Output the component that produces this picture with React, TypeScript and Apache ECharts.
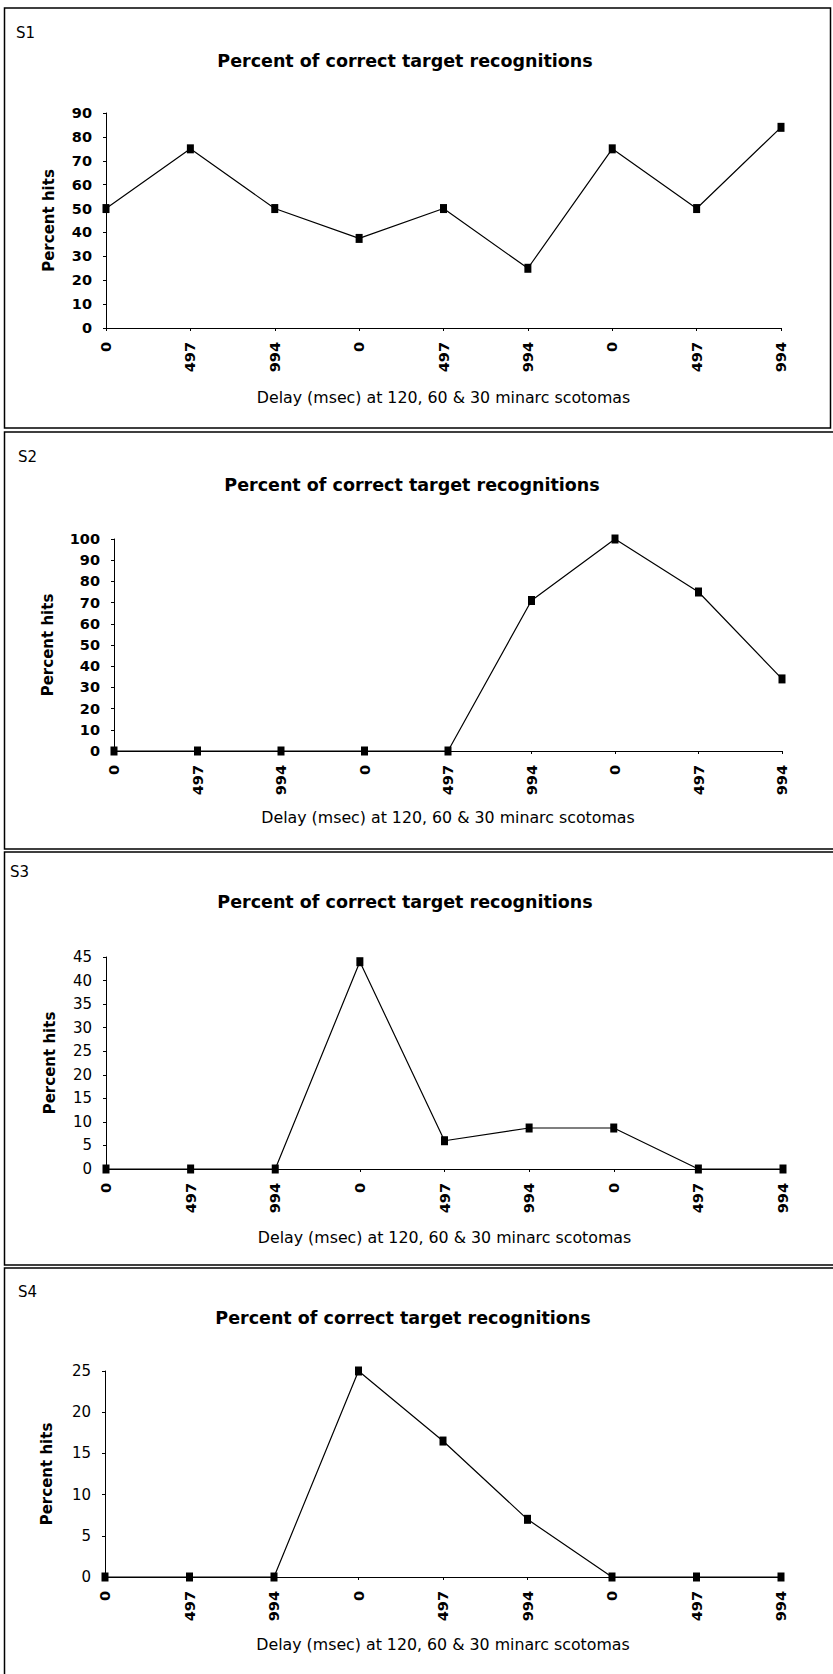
import React, { useEffect, useRef } from "react";
import * as echarts from "echarts";

const categories = ["0", "497", "994", "0", "497", "994", "0", "497", "994"];
const s1Values = [50, 75, 50, 37.5, 50, 25, 75, 50, 84];
const s2Values = [0, 0, 0, 0, 0, 71, 100, 75, 34];
const s3Values = [0, 0, 0, 44, 6, 8.7, 8.7, 0, 0];
const s4Values = [0, 0, 0, 25, 16.5, 7, 0, 0, 0];
const yMaxes = [90, 100, 45, 25];
const yIntervals = [10, 10, 5, 5];
const panelLabels = ["S1", "S2", "S3", "S4"];
const titleText = "Percent of correct target recognitions";
const xAxisName = "Delay (msec) at 120, 60 & 30 minarc scotomas";
const yAxisName = "Percent hits";

const seriesValues = [s1Values, s2Values, s3Values, s4Values];

// layout (pixels)
const grids = [
  { left: 106, top: 113, width: 675, height: 215 },
  { left: 114, top: 539, width: 668, height: 212 },
  { left: 106, top: 957, width: 677, height: 212 },
  { left: 105, top: 1371, width: 676, height: 206 },
];
const titlePos = [
  [405, 61],
  [412, 485],
  [405, 902],
  [403, 1318],
];
const labelPos = [
  [16, 33],
  [18, 457],
  [10, 872],
  [18, 1292],
];
const panelRects = [
  { x: 4.5, y: 8, width: 826, height: 420 },
  { x: 4.5, y: 432, width: 840, height: 417 },
  { x: 4.5, y: 852, width: 840, height: 413 },
  { x: 4.5, y: 1268, width: 840, height: 430 },
];
const xNameGaps = [61, 58, 60, 59];
const yNameGaps = [50, 59, 49, 51];
const yLabelBold = [true, true, false, false];

const FONT = '"DejaVu Sans", "Liberation Sans", Arial, sans-serif';

export default function App() {
  const ref = useRef<HTMLDivElement>(null);

  useEffect(() => {
    if (!ref.current) return;
    const chart = echarts.init(ref.current, undefined, { renderer: "svg" });

    const graphic: any[] = [];
    panelRects.forEach((r) => {
      graphic.push({
        type: "rect",
        shape: r,
        style: { fill: "none", stroke: "#000", lineWidth: 1.5 },
        silent: true,
      });
    });
    titlePos.forEach((p) => {
      graphic.push({
        type: "text",
        x: p[0],
        y: p[1],
        style: {
          text: titleText,
          fontFamily: FONT,
          fontSize: 17.5,
          fontWeight: "bold",
          fill: "#000",
          align: "center",
          verticalAlign: "middle",
          textAlign: "center",
          textVerticalAlign: "middle",
        },
      });
    });
    labelPos.forEach((p, i) => {
      graphic.push({
        type: "text",
        x: p[0],
        y: p[1],
        style: {
          text: panelLabels[i],
          fontFamily: FONT,
          fontSize: 15,
          fontWeight: "normal",
          fill: "#000",
          align: "left",
          verticalAlign: "middle",
          textAlign: "left",
          textVerticalAlign: "middle",
        },
      });
    });

    const option: any = {
      animation: false,
      backgroundColor: "#fff",
      textStyle: { fontFamily: FONT, color: "#000" },
      grid: grids.map((g) => ({ ...g, containLabel: false })),
      xAxis: grids.map((_, i) => ({
        type: "category",
        gridIndex: i,
        data: categories,
        boundaryGap: false,
        name: xAxisName,
        nameLocation: "middle",
        nameGap: xNameGaps[i],
        nameTextStyle: { fontFamily: FONT, fontSize: 15.8, color: "#000" },
        axisLine: { show: true, lineStyle: { color: "#000", width: 1 } },
        axisTick: { show: true, length: 3, alignWithLabel: true, lineStyle: { color: "#000" } },
        axisLabel: {
          rotate: 90,
          margin: 14,
          fontFamily: FONT,
          fontSize: 14.5,
          fontWeight: "bold",
          color: "#000",
          interval: 0,
        },
        splitLine: { show: false },
      })),
      yAxis: grids.map((_, i) => ({
        type: "value",
        gridIndex: i,
        min: 0,
        max: yMaxes[i],
        interval: yIntervals[i],
        name: yAxisName,
        nameLocation: "middle",
        nameRotate: 90,
        nameGap: yNameGaps[i],
        nameTextStyle: { fontFamily: FONT, fontSize: 15, fontWeight: "bold", color: "#000" },
        axisLine: { show: true, lineStyle: { color: "#000", width: 1 } },
        axisTick: { show: true, length: 3, lineStyle: { color: "#000" } },
        axisLabel: {
          margin: 14,
          fontFamily: FONT,
          fontSize: yLabelBold[i] ? 14.5 : 15,
          fontWeight: yLabelBold[i] ? "bold" : "normal",
          color: "#000",
        },
        splitLine: { show: false },
      })),
      series: seriesValues.map((vals, i) => ({
        type: "line",
        xAxisIndex: i,
        yAxisIndex: i,
        data: vals,
        symbol: "rect",
        symbolSize: [7, 9],
        showSymbol: true,
        lineStyle: { color: "#000", width: 1.2 },
        itemStyle: { color: "#000" },
        z: 5,
      })),
      graphic,
    };

    chart.setOption(option);
    return () => {
      chart.dispose();
    };
  }, []);

  return (
    <div
      ref={ref}
      style={{
        position: "absolute",
        left: 0,
        top: 0,
        width: 833,
        height: 1674,
        background: "#fff",
      }}
    />
  );
}
